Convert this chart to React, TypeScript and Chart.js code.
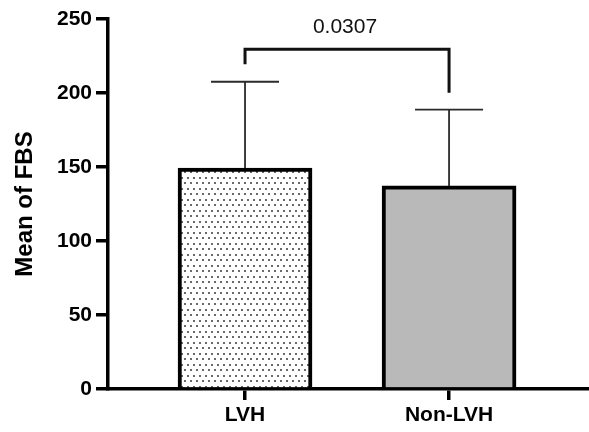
import React, { useEffect, useRef } from 'react';
import { Chart, registerables } from 'chart.js';

Chart.register(...registerables);

// ---- data ----
const categories = ['LVH', 'Non-LVH'];
const means = [149.3, 137.2];
const errorTops = [207.6, 188.7];
const yTicks = [0, 50, 100, 150, 200, 250];
const bracketTop = [229.5];
const bracketLegEnds = [219.4, 200.2];
const pValueText = ['0.0307'];
const pValueY = [244.3];

const FONT = "'Liberation Sans', Arial, Helvetica, sans-serif";

function makeDotPattern(ctx: CanvasRenderingContext2D): CanvasPattern | string {
  const tile = document.createElement('canvas');
  tile.width = 6;
  tile.height = 11;
  const t = tile.getContext('2d');
  if (!t) return '#ffffff';
  t.fillStyle = '#ffffff';
  t.fillRect(0, 0, 6, 11);
  t.fillStyle = '#6a6a6a';
  t.fillRect(1, 1, 2, 2);
  t.fillRect(4, 6, 2, 2);
  return ctx.createPattern(tile, 'repeat') || '#ffffff';
}

const overlayPlugin = {
  id: 'overlay',
  afterDatasetsDraw(chart: any) {
    const { ctx } = chart;
    const x = chart.scales.x;
    const y = chart.scales.y;
    ctx.save();
    // error bars
    ctx.strokeStyle = '#2b2b2b';
    ctx.lineWidth = 1.8;
    const capHalf = 34;
    means.forEach((m, i) => {
      const cx = x.getPixelForValue(i);
      const top = y.getPixelForValue(errorTops[i]);
      const base = y.getPixelForValue(m);
      ctx.beginPath();
      ctx.moveTo(cx, base);
      ctx.lineTo(cx, top);
      ctx.moveTo(cx - capHalf, top);
      ctx.lineTo(cx + capHalf, top);
      ctx.stroke();
    });
    // significance bracket
    const x0 = x.getPixelForValue(0);
    const x1 = x.getPixelForValue(1);
    const by = y.getPixelForValue(bracketTop[0]);
    ctx.strokeStyle = '#111';
    ctx.lineWidth = 3;
    ctx.lineCap = 'butt';
    ctx.lineJoin = 'miter';
    ctx.beginPath();
    ctx.moveTo(x0, y.getPixelForValue(bracketLegEnds[0]));
    ctx.lineTo(x0, by);
    ctx.lineTo(x1, by);
    ctx.lineTo(x1, y.getPixelForValue(bracketLegEnds[1]));
    ctx.stroke();
    // p value
    ctx.fillStyle = '#111';
    ctx.font = `21px ${FONT}`;
    ctx.textAlign = 'center';
    ctx.textBaseline = 'middle';
    ctx.fillText(pValueText[0], (x0 + x1) / 2 - 2, y.getPixelForValue(pValueY[0]));
    ctx.restore();
  },
};

export default function App() {
  const ref = useRef<HTMLCanvasElement | null>(null);

  useEffect(() => {
    document.body.style.margin = '0';
    const canvas = ref.current;
    if (!canvas) return;
    const ctx = canvas.getContext('2d');
    if (!ctx) return;
    const pattern = makeDotPattern(ctx);

    const chart = new Chart(canvas, {
      type: 'bar',
      data: {
        datasets: [
          {
            data: means.map((v, i) => ({ x: i, y: v })),
            backgroundColor: [pattern, '#b9b9b9'] as any,
            borderColor: '#000',
            borderWidth: 4,
            borderSkipped: 'start',
            barThickness: 134,
          },
        ],
      },
      options: {
        responsive: false,
        animation: false,
        devicePixelRatio: 1,
        layout: { padding: { top: 19, right: 1, bottom: 0, left: 0 } },
        plugins: {
          legend: { display: false },
          tooltip: { enabled: false },
        },
        scales: {
          x: {
            type: 'linear',
            min: -0.6716,
            max: 1.681,
            offset: false,
            z: 1,
            afterFit: (s: any) => {
              s.height = 43;
            },
            afterBuildTicks: (s: any) => {
              s.ticks = categories.map((_, i) => ({ value: i }));
            },
            grid: {
              display: true,
              offset: false,
              drawOnChartArea: false,
              drawTicks: true,
              tickLength: 11,
              lineWidth: 3.5,
              color: '#000',
            },
            border: { display: true, color: '#000', width: 3.5 },
            ticks: {
              color: '#000',
              padding: 3,
              maxRotation: 0,
              autoSkip: false,
              font: { family: FONT, size: 21, weight: 'bold' },
              callback: (v: any) => categories[Math.round(Number(v))] ?? '',
            },
          },
          y: {
            type: 'linear',
            min: yTicks[0],
            max: yTicks[yTicks.length - 1],
            z: 1,
            afterFit: (s: any) => {
              s.width = 108;
            },
            afterBuildTicks: (s: any) => {
              s.ticks = yTicks.map((v) => ({ value: v }));
            },
            grid: {
              display: true,
              drawOnChartArea: false,
              drawTicks: true,
              tickLength: 12,
              lineWidth: 3.5,
              color: '#000',
            },
            border: { display: true, color: '#000', width: 3.5 },
            ticks: {
              color: '#000',
              padding: 4,
              font: { family: FONT, size: 21, weight: 'bold' },
            },
            title: {
              display: true,
              text: 'Mean of FBS',
              color: '#000',
              padding: { top: 11, bottom: 0 },
              font: { family: FONT, size: 24, weight: 'bold' },
            },
          },
        },
      },
      plugins: [overlayPlugin],
    });

    return () => chart.destroy();
  }, []);

  return (
    <canvas
      ref={ref}
      width={589}
      height={432}
      style={{ display: 'block', width: 589, height: 432 }}
    />
  );
}
